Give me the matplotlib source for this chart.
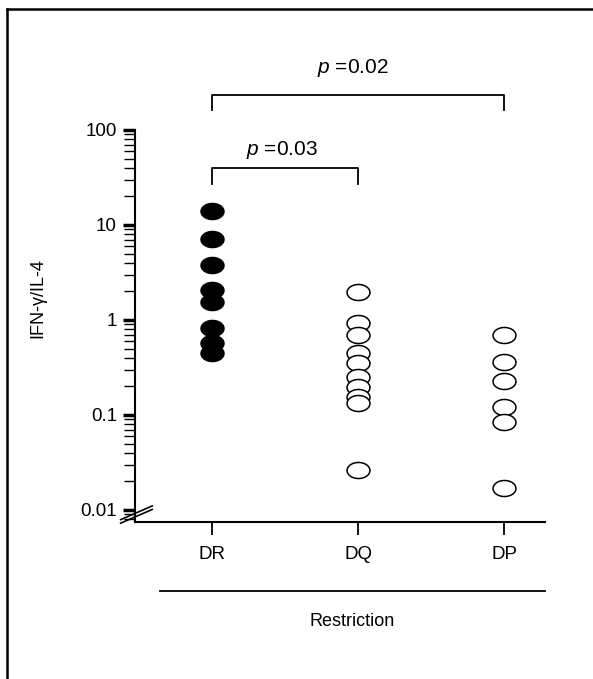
import numpy as np
import matplotlib
matplotlib.use("Agg")
import matplotlib.pyplot as plt
from matplotlib.path import Path
from matplotlib.lines import Line2D
import matplotlib.transforms as mtransforms
from matplotlib.ticker import FixedLocator, FixedFormatter, LogLocator, NullFormatter

plt.rcParams['font.family'] = ['Liberation Sans', 'DejaVu Sans']
plt.rcParams['mathtext.fontset'] = 'custom'
plt.rcParams['mathtext.it'] = 'Liberation Sans:italic'
plt.rcParams['mathtext.rm'] = 'Liberation Sans'

# ---- data ----
categories = ["DR", "DQ", "DP"]
dr_values = [14.0, 7.2, 3.8, 2.05, 1.55, 0.82, 0.57, 0.45]
dq_values = [1.97, 0.93, 0.70, 0.45, 0.35, 0.25, 0.197, 0.155, 0.134, 0.026]
dp_values = [0.70, 0.36, 0.23, 0.121, 0.084, 0.017]
ytick_values = [0.01, 0.1, 1, 10, 100]
ytick_labels = ["0.01", "0.1", "1", "10", "100"]
comparisons = [(0, 1, "0.03"), (0, 2, "0.02")]
ylabel = "IFN-\u03b3/IL-4"
xlabel = "Restriction"

W, H = 593, 679
fig = plt.figure(figsize=(W / 100, H / 100), dpi=100)

# frame border lines
fig.add_artist(Line2D([7 / W, 7 / W], [0, 1 - 9 / H], color='black', lw=1.8))
fig.add_artist(Line2D([7 / W, 1], [1 - 9 / H, 1 - 9 / H], color='black', lw=1.8))

ax_left, ax_right = 135 / W, 545 / W
ax_bottom, ax_top = (H - 522) / H, (H - 130) / H
ax = fig.add_axes([ax_left, ax_bottom, ax_right - ax_left, ax_top - ax_bottom])

# ellipse marker
t = np.linspace(0, 2 * np.pi, 60)
ell = Path(np.column_stack([np.cos(t), 0.70 * np.sin(t)]), closed=True)

xpos = np.arange(len(categories))
ax.plot(np.full(len(dr_values), xpos[0]), dr_values, linestyle='none', marker=ell,
        ms=16.5, mfc='black', mec='black', mew=1.1)
ax.plot(np.full(len(dq_values), xpos[1]), dq_values, linestyle='none', marker=ell,
        ms=16.5, mfc='white', mec='black', mew=1.1)
ax.plot(np.full(len(dp_values), xpos[2]), dp_values, linestyle='none', marker=ell,
        ms=16.5, mfc='white', mec='black', mew=1.1)

ax.set_yscale('log')
ax.set_ylim(0.00746, 100)
ax.set_xlim(-0.527, 2.28)

ax.yaxis.set_major_locator(FixedLocator(ytick_values))
ax.yaxis.set_major_formatter(FixedFormatter(ytick_labels))
ax.yaxis.set_minor_locator(LogLocator(base=10, subs=np.arange(2, 10)))
ax.yaxis.set_minor_formatter(NullFormatter())
ax.tick_params(axis='y', which='major', length=9, width=2.5, direction='out',
               labelsize=13.5, pad=4)
ax.tick_params(axis='y', which='minor', length=8, width=1.0, direction='out')

ax.set_xticks(xpos)
ax.set_xticklabels(categories)
ax.tick_params(axis='x', which='major', length=9, width=1.3, direction='out',
               labelsize=13.5, pad=8)

for s in ['top', 'right']:
    ax.spines[s].set_visible(False)
ax.spines['left'].set_linewidth(1.5)
ax.spines['bottom'].set_linewidth(1.5)

ax.set_ylabel(ylabel, fontsize=13)
ax.yaxis.set_label_coords(-0.215, 0.57)

# axis break marks
for dy in (0.0, 0.009):
    ax.plot([-0.035, 0.042], [-0.003 + dy, 0.032 + dy], transform=ax.transAxes,
            color='black', lw=1.2, clip_on=False)

# Restriction line and label
ax.plot([0.06, 1.0], [-0.176, -0.176], transform=ax.transAxes, color='black',
        lw=1.3, clip_on=False)
ax.text(0.53, -0.255, xlabel, transform=ax.transAxes, ha='center', va='center',
        fontsize=13)

# significance brackets
trans = mtransforms.blended_transform_factory(ax.transData, ax.transAxes)
bracket_levels = [(0.903, 0.862, 0.949, -0.02), (1.089, 1.051, 1.158, -0.034)]
for (i, j, pv), (ytop, yleg, ytxt, dx) in zip(comparisons, bracket_levels):
    ax.plot([xpos[i], xpos[i], xpos[j], xpos[j]], [yleg, ytop, ytop, yleg],
            transform=trans, color='black', lw=1.3, clip_on=False)
    ax.text((xpos[i] + xpos[j]) / 2 + dx, ytxt,
            r"$p$ =" + pv, transform=trans, ha='center', va='center', fontsize=15)

fig.savefig("out.png", dpi=100)
